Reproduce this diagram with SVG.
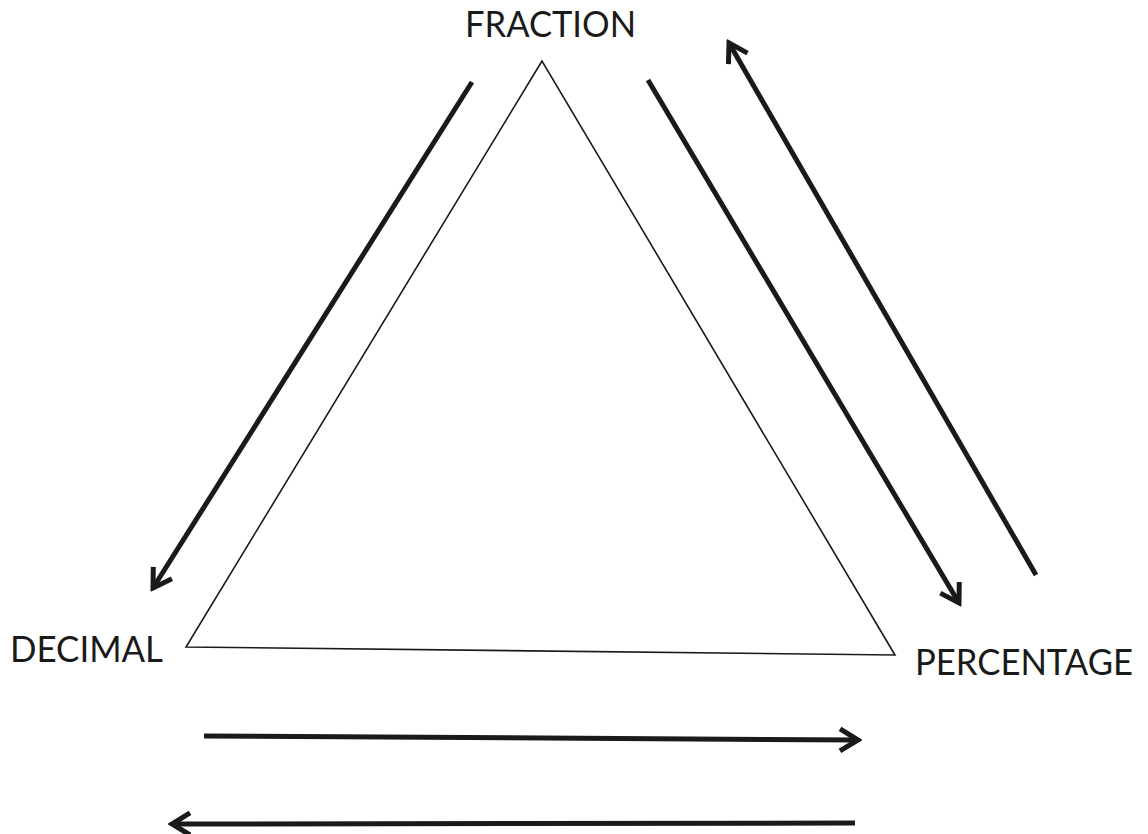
<svg xmlns="http://www.w3.org/2000/svg" width="1148" height="834" viewBox="0 0 1148 834">
<style>
.lbl{font-family:Lato,"Liberation Sans",sans-serif;font-size:37px;fill:#1a1a1a}
.arr{stroke:#1a1a1a;stroke-width:5;fill:none;stroke-linecap:butt}
.tri{stroke:#1a1a1a;stroke-width:1.6;fill:none}
</style>
<defs>
<marker id="ah" markerUnits="userSpaceOnUse" viewBox="-24 -14 28 28" refX="0" refY="0" markerWidth="28" markerHeight="28" orient="auto">
<path d="M-18,-11 L0,0 L-18,11" fill="none" stroke="#1a1a1a" stroke-width="5" stroke-linejoin="miter"/>
</marker>
</defs>
<rect width="1148" height="834" fill="#fff"/>
<g id="triangle"><polygon class="tri" points="542,61 186,647 895,655"/></g>
<g id="fraction"><text class="lbl" x="465" y="37" textLength="171" lengthAdjust="spacingAndGlyphs">FRACTION</text></g>
<g id="decimal"><text class="lbl" x="10" y="662" textLength="153" lengthAdjust="spacingAndGlyphs">DECIMAL</text></g>
<g id="percentage"><text class="lbl" x="915" y="675" textLength="218" lengthAdjust="spacingAndGlyphs">PERCENTAGE</text></g>
<g id="connectors">
<line class="arr" x1="472" y1="82" x2="153" y2="588" marker-end="url(#ah)"/>
<line class="arr" x1="648" y1="80" x2="959" y2="603" marker-end="url(#ah)"/>
<line class="arr" x1="1036" y1="575" x2="729" y2="43" marker-end="url(#ah)"/>
<line class="arr" x1="204" y1="736" x2="858" y2="740" marker-end="url(#ah)"/>
<line class="arr" x1="855" y1="823" x2="172" y2="824" marker-end="url(#ah)"/>
</g>
</svg>
